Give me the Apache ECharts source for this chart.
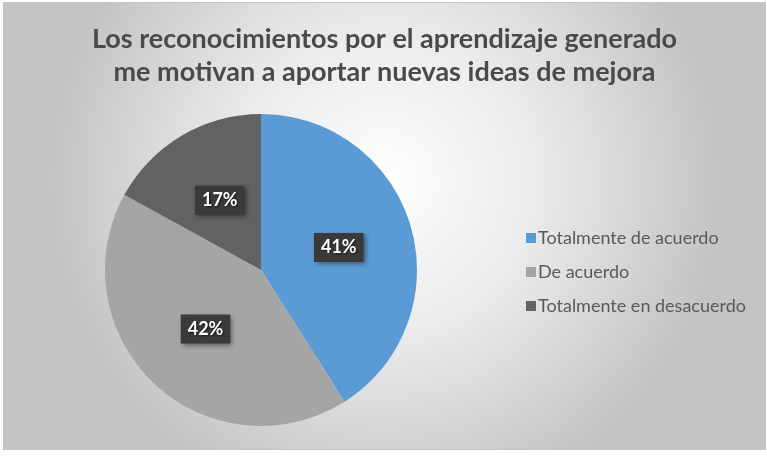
<!DOCTYPE html>
<html>
<head>
<meta charset="utf-8">
<script src="https://cdn.jsdelivr.net/npm/echarts@6/dist/echarts.min.js"></script>
<style>
	html, body { margin: 0; padding: 0; background: #fff; }
	#chart {
		position: absolute;
		left: 3px;
		top: 2px;
		width: 761px;
		height: 446px;
		border: 1px solid #c4c4c4;
	}
</style>
</head>
<body>
<div id="chart"></div>
<script>
	const titleText = "Los reconocimientos por el aprendizaje generado\nme motivan a aportar nuevas ideas de mejora"
	const categories = ["Totalmente de acuerdo", "De acuerdo", "Totalmente en desacuerdo"]
	const values = [41, 42, 17]
	const colors = ["#5b9bd5", "#a5a5a5", "#626262"]

	const chart = echarts.init(document.getElementById("chart"))
	chart.setOption({
		backgroundColor: {
			type: "radial",
			x: 0.5,
			y: 0.4,
			r: 0.75,
			colorStops: [
				{ offset: 0, color: "#ffffff" },
				{ offset: 0.45, color: "#ebebeb" },
				{ offset: 1, color: "#c4c4c4" }
			]
		},
		color: colors,
		title: {
			text: titleText,
			left: "center",
			top: 15,
			textStyle: {
				fontFamily: "Lato",
				fontWeight: "bold",
				fontSize: 27,
				lineHeight: 33,
				color: "#4a4a4a"
			}
		},
		legend: {
			orient: "vertical",
			left: 517,
			top: 221,
			itemWidth: 10,
			itemHeight: 10,
			itemGap: 16,
			icon: "rect",
			textStyle: {
				fontFamily: "Lato",
				fontSize: 18,
				color: "#595959",
				padding: [0, 0, 0, -3]
			},
			data: categories
		},
		series: [
			{
				type: "pie",
				center: [257, 267],
				radius: [0, 156],
				startAngle: 90,
				clockwise: true,
				silent: true,
				data: categories.map((name, i) => ({ name: name, value: values[i] })),
				itemStyle: {
					borderWidth: 0
				},
				label: {
					position: "inside",
					formatter: "{c}%",
					fontFamily: "Lato",
					fontWeight: "bold",
					fontSize: 18,
					color: "#ffffff",
					backgroundColor: "#3b3a39",
					padding: [6, 7, 5, 7],
					shadowColor: "rgba(0,0,0,0.45)",
					shadowBlur: 5,
					shadowOffsetX: 2,
					shadowOffsetY: 2,
					textShadowColor: "rgba(0,0,0,0.6)",
					textShadowBlur: 2,
					textShadowOffsetX: 1,
					textShadowOffsetY: 1
				},
				labelLine: { show: false }
			}
		]
	})
</script>
</body>
</html>
